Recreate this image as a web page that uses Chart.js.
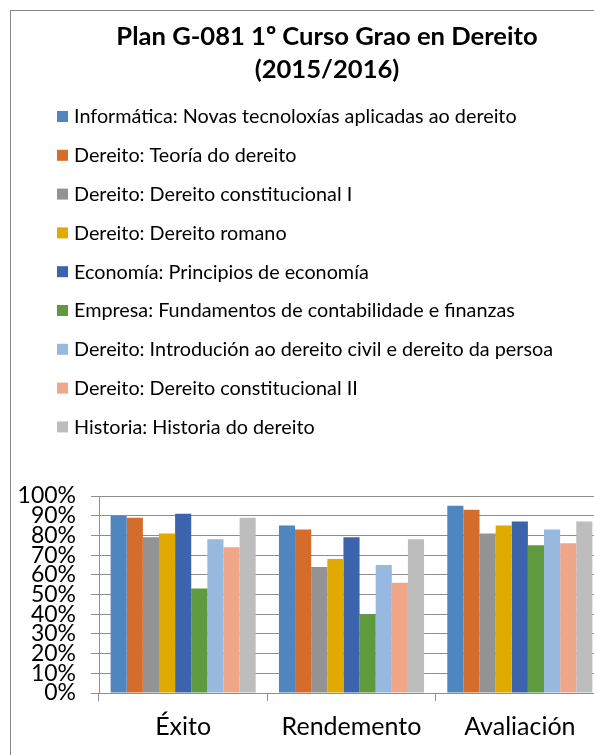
<!DOCTYPE html>
<html>
<head>
<meta charset="utf-8">
<script src="https://cdn.jsdelivr.net/npm/chart.js@4/dist/chart.umd.min.js"></script>
<style>
    html, body { margin: 0; padding: 0; background: #fff; overflow: hidden; }
    #frame {
        position: absolute;
        left: 10px;
        top: 10px;
        width: 632px;
        height: 760px;
        border: 1px solid #878787;
        background: #fff;
    }
    canvas { display: block; }
</style>
</head>
<body>
<div id="frame"><canvas id="chart" width="632" height="760"></canvas></div>
<script>
// Chart data (in %)
const titleLines = ['Plan G-081 1º Curso Grao en Dereito', '(2015/2016)'];
const categories = ['Éxito', 'Rendemento', 'Avaliación'];
const subjects = [
    'Informática: Novas tecnoloxías aplicadas ao dereito',
    'Dereito: Teoría do dereito',
    'Dereito: Dereito constitucional I',
    'Dereito: Dereito romano',
    'Economía: Principios de economía',
    'Empresa: Fundamentos de contabilidade e finanzas',
    'Dereito: Introdución ao dereito civil e dereito da persoa',
    'Dereito: Dereito constitucional II',
    'Historia: Historia do dereito'
];
const informatica = [90, 85, 95];
const teoria = [89, 83, 93];
const constitucional1 = [79, 64, 81];
const romano = [81, 68, 85];
const economia = [91, 79, 87];
const empresa = [53, 40, 75];
const civil = [78, 65, 83];
const constitucional2 = [74, 56, 76];
const historia = [89, 78, 87];
const yTicks = [0, 10, 20, 30, 40, 50, 60, 70, 80, 90, 100];

const seriesValues = [informatica, teoria, constitucional1, romano, economia, empresa, civil, constitucional2, historia];
const seriesColors = ['#5086bf', '#d46d2b', '#939393', '#e0aa00', '#3c64ad', '#5f9a3e', '#97b9e0', '#f0a688', '#bdbdbd'];

const FONT = 'Lato, "Open Sans", sans-serif';
const GRID = '#8e8e8e';

// Title and one-item-per-row legend, drawn above the plot area
const headerPlugin = {
    id: 'header',
    afterDraw(chart) {
        const ctx = chart.ctx;
        ctx.save();
        ctx.fillStyle = '#000';
        ctx.textBaseline = 'middle';
        ctx.textAlign = 'center';
        ctx.font = 'bold 25.6px ' + FONT;
        titleLines.forEach((line, i) => {
            ctx.fillText(line, chart.width / 2, 26 + i * 33);
        });

        ctx.textAlign = 'left';
        ctx.font = '19.8px ' + FONT;
        chart.data.datasets.forEach((ds, i) => {
            const cy = 106 + i * 38.8;
            ctx.fillStyle = ds.backgroundColor;
            ctx.fillRect(46, cy - 6, 11, 11);
            ctx.fillStyle = '#000';
            ctx.fillText(ds.label, 63, cy);
        });
        ctx.restore();
    }
};

const chartData = {
    labels: categories,
    datasets: subjects.map((name, i) => ({
        label: name,
        data: seriesValues[i],
        backgroundColor: seriesColors[i],
        borderWidth: 0,
        categoryPercentage: 0.862,
        barPercentage: 1
    }))
};

const options = {
    responsive: false,
    animation: false,
    layout: {
        padding: { top: 485, right: 39, bottom: 30, left: 0 }
    },
    plugins: {
        legend: { display: false },
        title: { display: false },
        tooltip: { enabled: false }
    },
    scales: {
        x: {
            grid: {
                display: true,
                drawOnChartArea: false,
                drawTicks: true,
                tickLength: 8,
                color: GRID,
                offset: true
            },
            border: { color: GRID },
            ticks: {
                color: '#000',
                padding: 11,
                font: { family: FONT, size: 25 }
            },
            afterFit: (scale) => { scale.height = 48; }
        },
        y: {
            min: 0,
            max: 100,
            afterBuildTicks: (scale) => { scale.ticks = yTicks.map(v => ({ value: v })); },
            grid: {
                color: GRID,
                tickLength: 8
            },
            border: { color: GRID },
            ticks: {
                autoSkip: false,
                color: '#000',
                padding: 15,
                font: { family: FONT, size: 23, lineHeight: 1 },
                callback: (value) => value + '%'
            },
            afterFit: (scale) => { scale.width = 88; }
        }
    }
};

new Chart(document.getElementById('chart'), {
    type: 'bar',
    data: chartData,
    options: options,
    plugins: [headerPlugin]
});
</script>
</body>
</html>
